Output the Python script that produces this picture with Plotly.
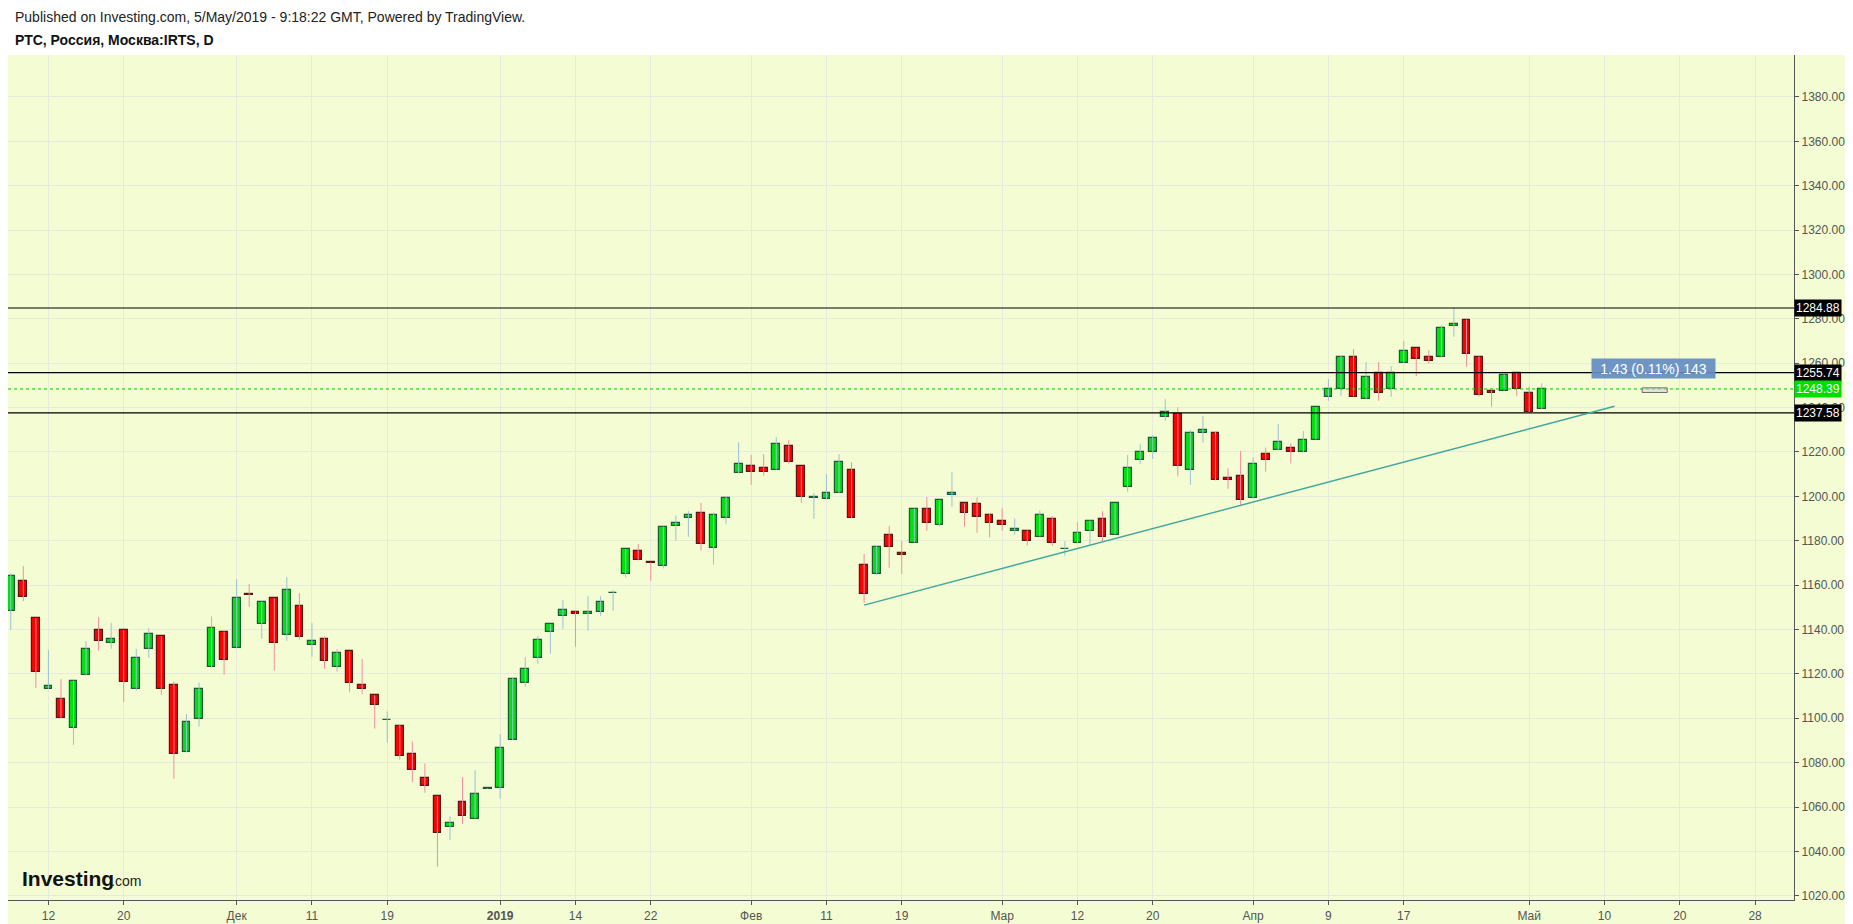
import plotly.graph_objects as go

# ---------------- data ----------------
# bar index 0 = 12 Nov 2018 (trading days only); first visible bar is index -3
first_index = -3
opens = [1148.4, 1161.7, 1145.0, 1113.4, 1108.5, 1095.4, 1119.3, 1140.0, 1133.7, 1139.6,
         1113.4, 1131.0, 1136.9, 1115.2, 1084.6, 1099.5, 1122.9, 1139.1, 1131.5, 1156.0,
         1142.7, 1154.0, 1137.3, 1150.8, 1132.8, 1135.5, 1123.3, 1130.1, 1115.2, 1110.3,
         1099.1, 1096.3, 1084.1, 1072.9, 1064.8, 1051.1, 1062.1, 1054.8, 1068.3, 1068.7,
         1090.4, 1116.1, 1127.0, 1139.1, 1146.3, 1148.1, 1146.8, 1147.7, 1156.4, 1164.8,
         1175.6, 1170.2, 1168.4, 1186.7, 1190.3, 1192.7, 1176.8, 1190.3, 1210.6, 1213.5,
         1213.0, 1212.0, 1222.9, 1213.5, 1199.2, 1198.6, 1201.3, 1211.7, 1168.9, 1164.8,
         1182.8, 1174.3, 1179.2, 1194.1, 1186.9, 1200.4, 1196.8, 1196.4, 1191.8, 1188.7,
         1184.2, 1184.6, 1181.9, 1189.6, 1176.1, 1179.1, 1184.6, 1189.6, 1182.8, 1204.0,
         1216.2, 1219.8, 1235.6, 1237.1, 1212.1, 1228.4, 1228.4, 1208.5, 1209.4, 1199.1,
         1219.3, 1220.7, 1222.0, 1219.8, 1225.6, 1245.0, 1248.2, 1262.6, 1243.7, 1255.4,
         1248.6, 1259.9, 1266.7, 1262.6, 1262.6, 1276.6, 1279.7, 1262.6, 1247.7, 1247.7,
         1255.8, 1246.8, 1239.2]
highs = [1165.3, 1168.6, 1145.0, 1130.7, 1117.6, 1117.0, 1134.8, 1145.6, 1142.9, 1139.6,
         1131.2, 1140.6, 1136.9, 1116.6, 1101.9, 1116.1, 1145.9, 1139.1, 1162.7, 1160.5,
         1152.6, 1154.0, 1163.6, 1156.4, 1142.9, 1136.9, 1131.2, 1130.1, 1126.7, 1110.3,
         1103.1, 1097.4, 1089.5, 1079.6, 1064.8, 1055.9, 1073.5, 1076.6, 1068.6, 1092.9,
         1118.3, 1127.6, 1137.0, 1142.3, 1153.2, 1148.1, 1155.0, 1155.0, 1157.7, 1176.1,
         1178.5, 1170.2, 1186.4, 1191.4, 1193.3, 1197.0, 1192.7, 1200.1, 1224.4, 1218.6,
         1219.0, 1226.7, 1225.3, 1213.5, 1201.5, 1210.0, 1219.0, 1215.4, 1174.0, 1178.0,
         1186.6, 1179.8, 1194.6, 1199.7, 1198.2, 1210.9, 1196.8, 1199.5, 1192.3, 1194.6,
         1190.0, 1184.6, 1193.6, 1191.1, 1179.8, 1188.4, 1189.1, 1193.3, 1196.8, 1218.6,
         1223.5, 1227.6, 1243.8, 1240.2, 1229.9, 1236.2, 1229.2, 1212.7, 1220.4, 1217.5,
         1222.0, 1232.6, 1223.8, 1229.4, 1240.1, 1252.8, 1263.7, 1266.4, 1260.5, 1260.5,
         1258.7, 1270.0, 1266.7, 1265.9, 1277.2, 1285.1, 1279.7, 1263.1, 1247.7, 1255.8,
         1255.8, 1249.5, 1251.0]
lows = [1139.7, 1152.8, 1113.7, 1113.3, 1099.9, 1088.0, 1119.3, 1130.4, 1131.3, 1107.4,
        1112.4, 1127.3, 1110.6, 1072.7, 1084.6, 1096.2, 1122.9, 1119.6, 1131.5, 1150.2,
        1135.8, 1121.4, 1134.9, 1135.5, 1127.7, 1122.3, 1121.0, 1111.9, 1111.0, 1095.3,
        1088.9, 1081.3, 1071.1, 1066.4, 1033.1, 1045.1, 1052.3, 1054.8, 1068.2, 1063.7,
        1090.2, 1114.2, 1124.5, 1129.1, 1140.3, 1132.2, 1139.4, 1146.2, 1148.4, 1163.5,
        1171.1, 1162.0, 1167.5, 1180.0, 1181.8, 1175.5, 1169.2, 1187.6, 1210.6, 1205.2,
        1209.3, 1212.0, 1214.7, 1197.1, 1189.9, 1198.6, 1201.3, 1190.3, 1152.0, 1164.5,
        1167.8, 1165.0, 1179.2, 1184.5, 1186.3, 1195.3, 1186.3, 1183.6, 1181.5, 1184.5,
        1182.7, 1177.9, 1181.9, 1177.7, 1173.2, 1179.1, 1178.0, 1179.8, 1182.8, 1202.1,
        1214.7, 1216.9, 1234.1, 1209.1, 1205.2, 1224.1, 1207.2, 1203.4, 1195.9, 1199.1,
        1211.2, 1220.7, 1214.8, 1219.8, 1225.6, 1243.1, 1245.3, 1245.0, 1243.7, 1243.1,
        1244.9, 1259.9, 1254.2, 1259.9, 1262.6, 1271.9, 1258.4, 1244.9, 1240.4, 1247.7,
        1245.3, 1237.4, 1239.2]
closes = [1164.1, 1154.7, 1120.9, 1114.5, 1099.9, 1117.0, 1131.0, 1134.6, 1135.5, 1116.4,
          1127.0, 1138.2, 1113.4, 1083.7, 1098.1, 1113.0, 1140.9, 1126.1, 1154.0, 1155.6,
          1152.6, 1133.7, 1157.6, 1136.4, 1134.6, 1125.6, 1129.2, 1116.1, 1113.0, 1105.8,
          1099.3, 1083.2, 1076.9, 1069.7, 1048.5, 1052.6, 1056.0, 1065.7, 1068.5, 1086.4,
          1117.9, 1122.4, 1135.1, 1142.3, 1148.6, 1146.8, 1147.7, 1152.6, 1156.6, 1176.1,
          1171.1, 1169.9, 1186.4, 1187.8, 1191.8, 1178.6, 1191.4, 1199.1, 1214.5, 1211.1,
          1211.1, 1223.4, 1215.6, 1199.8, 1199.5, 1201.3, 1215.3, 1190.3, 1156.2, 1177.4,
          1177.0, 1173.4, 1194.1, 1188.2, 1198.2, 1201.3, 1192.7, 1190.9, 1188.2, 1187.3,
          1185.5, 1180.1, 1191.4, 1179.2, 1176.4, 1183.3, 1189.1, 1181.9, 1196.8, 1213.0,
          1219.8, 1226.1, 1237.8, 1213.5, 1228.4, 1229.7, 1207.2, 1207.2, 1198.2, 1214.4,
          1216.2, 1224.3, 1219.8, 1225.6, 1240.1, 1248.2, 1262.6, 1245.0, 1253.6, 1246.8,
          1255.4, 1265.3, 1262.1, 1260.8, 1275.7, 1277.9, 1264.0, 1245.9, 1246.8, 1254.9,
          1248.2, 1237.8, 1248.39]

tick_positions = [0, 6, 15, 21, 27, 36, 42, 48, 56, 62, 68, 76, 82, 88, 96, 102, 108, 118, 124, 130, 136]
tick_labels = ["12", "20", "Дек", "11", "19", "<b>2019</b>", "14", "22", "Фев", "11", "19",
               "Мар", "12", "20", "Апр", "9", "17", "Май", "10", "20", "28"]

level_lines = [1284.88, 1255.74, 1237.58]
last_price = 1248.39
trend_x = [65.0, 124.8]
trend_y = [1151.0, 1240.6]
measure_text = "1.43 (0.11%) 143"
measure_x, measure_y = 127.9, 1257.4
header_1 = "Published on Investing.com, 5/May/2019 - 9:18:22 GMT, Powered by TradingView."
header_2 = "РТС, Россия, Москва:IRTS, D"

# ---------------- styling ----------------
BG = "#F3FCD3"
GRID = "#E6EBDC"
AXIS = "#555555"
UP_FILL, UP_LINE, UP_WICK = "#00E010", "#1F5A38", "#9EC0D2"
DN_FILL, DN_LINE, DN_WICK = "#FF0000", "#5A1515", "#F2909E"
FONT = "Arial, Liberation Sans, sans-serif"

xs = list(range(first_index, first_index + len(closes)))

fig = go.Figure()

# wicks
for up, col in ((True, UP_WICK), (False, DN_WICK)):
    wx, wy = [], []
    for x, o, h, l, c in zip(xs, opens, highs, lows, closes):
        if (c >= o) == up:
            wx += [x, x, None]
            wy += [l, h, None]
    fig.add_trace(go.Scatter(x=wx, y=wy, mode="lines", line=dict(color=col, width=1),
                             hoverinfo="skip", showlegend=False))

# bodies
for up, fill, line in ((True, UP_FILL, UP_LINE), (False, DN_FILL, DN_LINE)):
    bx, bh, bb = [], [], []
    for x, o, c in zip(xs, opens, closes):
        if (c >= o) == up:
            bx.append(x)
            bh.append(max(abs(c - o), 0.15))
            bb.append(min(o, c))
    fig.add_trace(go.Bar(x=bx, y=bh, base=bb, width=0.62,
                         marker=dict(color=fill, line=dict(color=line, width=1.2)),
                         hoverinfo="skip", showlegend=False))

shapes = []
# light green page background below header
shapes.append(dict(type="rect", xref="paper", yref="paper", x0=-0.01, x1=1.04, y0=-0.05, y1=1.0,
                   fillcolor=BG, line=dict(width=0), layer="below"))
# horizontal levels
for lv in level_lines:
    shapes.append(dict(type="line", xref="paper", yref="y", x0=0, x1=1, y0=lv, y1=lv,
                       line=dict(color="#000000", width=1.2), layer="above"))
# last price dotted line
shapes.append(dict(type="line", xref="paper", yref="y", x0=0, x1=1, y0=last_price, y1=last_price,
                   line=dict(color="#00C800", width=1, dash="dot"), layer="above"))
# trend line
shapes.append(dict(type="line", xref="x", yref="y", x0=trend_x[0], x1=trend_x[1],
                   y0=trend_y[0], y1=trend_y[1], line=dict(color="#3FA79E", width=1.4), layer="above"))
# tiny measurement marker
shapes.append(dict(type="rect", xref="x", yref="y", x0=127.0, x1=129.0, y0=1246.8, y1=1248.9,
                   line=dict(color="#707070", width=1), fillcolor="rgba(210,210,210,0.6)", layer="above"))
# hide lower half of the bottom tick label (clipped in the original)
shapes.append(dict(type="rect", xref="paper", yref="paper", x0=1.0008, x1=1.04, y0=-0.05, y1=-0.0015,
                   fillcolor=BG, line=dict(width=0), layer="above"))

annotations = []
annotations.append(dict(xref="paper", yref="paper", x=0, y=1, xanchor="left", yanchor="middle",
                        xshift=5, yshift=38, text=header_1, showarrow=False,
                        font=dict(family=FONT, size=14, color="#222222")))
annotations.append(dict(xref="paper", yref="paper", x=0, y=1, xanchor="left", yanchor="middle",
                        xshift=5, yshift=15, text="<b>" + header_2 + "</b>", showarrow=False,
                        font=dict(family=FONT, size=14, color="#111111")))
# logo
annotations.append(dict(xref="paper", yref="paper", x=0, y=0, xanchor="left", yanchor="middle",
                        xshift=12, yshift=22, text="<b>Investing</b>", showarrow=False,
                        font=dict(family=FONT, size=21, color="#111111")))
annotations.append(dict(xref="paper", yref="paper", x=0, y=0, xanchor="left", yanchor="middle",
                        xshift=101, yshift=19, text=".com", showarrow=False,
                        font=dict(family=FONT, size=14, color="#222222")))
# price labels on the right
for lv in level_lines:
    annotations.append(dict(xref="paper", yref="y", x=1, y=lv, xanchor="left", yanchor="middle",
                            xshift=0, text=f"{lv:.2f}", showarrow=False, bgcolor="#000000",
                            borderpad=1, font=dict(family=FONT, size=12, color="#FFFFFF")))
annotations.append(dict(xref="paper", yref="y", x=1, y=last_price, xanchor="left", yanchor="middle",
                        xshift=0, text=f"{last_price:.2f}", showarrow=False, bgcolor="#00DD00",
                        borderpad=1, font=dict(family=FONT, size=12, color="#FFFFFF")))
# measurement label
annotations.append(dict(xref="x", yref="y", x=measure_x, y=measure_y, text=measure_text,
                        showarrow=False, bgcolor="rgba(100,140,195,0.92)", width=121, height=17,
                        borderpad=1, font=dict(family=FONT, size=14, color="#FFFFFF")))

# the page body adds an 8px offset, so the figure is 8px smaller and margins shifted
fig.update_layout(
    width=1845, height=916,
    margin=dict(l=0, r=59, t=47, b=24),
    paper_bgcolor="#FFFFFF", plot_bgcolor=BG,
    barmode="overlay", bargap=0,
    showlegend=False,
    shapes=shapes, annotations=annotations,
    font=dict(family=FONT, size=12, color=AXIS),
    xaxis=dict(range=[-3.22, 139.1], tickmode="array", tickvals=tick_positions, ticktext=tick_labels,
               showgrid=True, gridcolor=GRID, gridwidth=1, zeroline=False,
               showline=True, linecolor=AXIS, linewidth=1.2,
               ticks="outside", ticklen=4, tickcolor=AXIS,
               tickfont=dict(family=FONT, size=12, color="#555555"), fixedrange=True),
    yaxis=dict(side="right", range=[1018.1, 1398.9], tick0=1020, dtick=20, tickformat=".2f",
               showgrid=True, gridcolor=GRID, gridwidth=1, zeroline=False,
               showline=True, linecolor=AXIS, linewidth=1.2,
               ticks="outside", ticklen=4, tickcolor=AXIS,
               tickfont=dict(family=FONT, size=12, color="#555555"), fixedrange=True),
)

fig.write_html("out.html")
